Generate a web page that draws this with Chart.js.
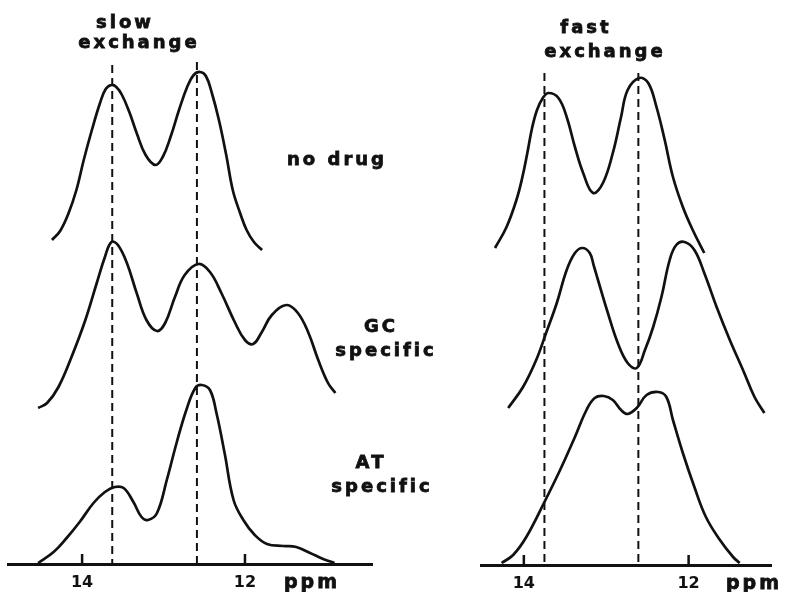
<!DOCTYPE html>
<html>
<head>
<meta charset="utf-8">
<script src="https://cdn.jsdelivr.net/npm/chart.js@4"></script>
<style>
  html, body { margin: 0; background: #fff; }
  .panel { position: absolute; left: 0; top: 0; width: 786px; height: 592px; }
</style>
</head>
<body>
<div class="panel"><canvas id="slowChart" width="786" height="592"></canvas></div>
<div class="panel"><canvas id="fastChart" width="786" height="592"></canvas></div>
<script>
const INK = '#111'

// slow exchange: imino proton region, three traces stacked
const slowNoDrugPpm = [14.37, 14.27, 14.17, 14.07, 13.98, 13.88, 13.78, 13.71, 13.64, 13.58, 13.51, 13.42, 13.33, 13.22, 13.10, 13.01, 12.91, 12.81, 12.71, 12.63, 12.55, 12.48, 12.41, 12.32, 12.23, 12.15, 12.06, 11.98, 11.89, 11.79]
const slowNoDrugInt = [324, 333, 350, 374, 404, 434, 461, 475, 479, 477, 469, 452, 431, 409, 399, 407, 428, 454, 477, 489, 492, 488, 472, 444, 409, 374, 351, 334, 322, 314]

const slowGCPpm = [14.54, 14.43, 14.29, 14.13, 13.96, 13.82, 13.72, 13.64, 13.56, 13.45, 13.33, 13.21, 13.08, 12.98, 12.86, 12.74, 12.57, 12.43, 12.29, 12.12, 12.00, 11.90, 11.80, 11.67, 11.49, 11.35, 11.22, 11.10, 10.98, 10.89]
const slowGCInt = [156, 161, 177, 207, 244, 281, 307, 322, 319, 301, 271, 244, 233, 241, 267, 289, 300, 292, 271, 241, 224, 220, 231, 249, 259, 251, 231, 204, 181, 171]

const slowATPpm = [14.54, 14.35, 14.19, 14.03, 13.86, 13.72, 13.60, 13.49, 13.37, 13.27, 13.19, 13.08, 12.96, 12.84, 12.72, 12.61, 12.53, 12.43, 12.35, 12.25, 12.14, 12.02, 11.88, 11.73, 11.53, 11.37, 11.20, 11.04, 10.90]
const slowATInt = [1, 12, 26, 42, 61, 72, 77, 76, 62, 47, 44, 51, 84, 121, 154, 176, 179, 174, 151, 111, 64, 44, 29, 20, 18, 17, 11, 5, 1]

// fast exchange
const fastNoDrugPpm = [14.35, 14.21, 14.09, 14.02, 13.96, 13.90, 13.84, 13.77, 13.70, 13.58, 13.48, 13.38, 13.28, 13.16, 13.04, 12.92, 12.82, 12.74, 12.60, 12.49, 12.39, 12.29, 12.19, 12.07, 11.95, 11.81]
const fastNoDrugInt = [317, 338, 365, 387, 411, 437, 455, 467, 472, 467, 448, 418, 392, 372, 382, 412, 448, 475, 487, 482, 458, 425, 388, 358, 335, 312]

const fastGCPpm = [14.19, 14.01, 13.85, 13.73, 13.60, 13.48, 13.38, 13.29, 13.20, 13.15, 13.10, 12.98, 12.86, 12.74, 12.63, 12.53, 12.43, 12.33, 12.23, 12.15, 12.05, 11.93, 11.81, 11.66, 11.50, 11.34, 11.20, 11.08]
const fastGCInt = [157, 178, 205, 232, 262, 295, 312, 317, 312, 299, 285, 252, 222, 202, 197, 215, 238, 268, 305, 320, 323, 315, 292, 258, 225, 195, 168, 152]

const fastATPpm = [14.27, 14.13, 13.97, 13.75, 13.56, 13.38, 13.24, 13.14, 13.03, 12.92, 12.82, 12.74, 12.63, 12.51, 12.37, 12.27, 12.19, 12.07, 11.93, 11.79, 11.62, 11.46, 11.38]
const fastATInt = [2, 10, 28, 63, 95, 128, 155, 167, 169, 165, 155, 151, 157, 170, 173, 168, 145, 112, 78, 48, 25, 8, 2]

// reference shifts (dashed lines) and axis ticks
const slowShifts = [13.63, 12.59]
const fastShifts = [13.75, 12.61]
const tickValues = [14, 12]

function trace (ppm, intensity) {
  return {
    data: ppm.map((p, i) => ({ x: p, y: intensity[i] })),
    borderColor: INK,
    borderWidth: 2.7,
    pointRadius: 0,
    fill: false,
    tension: 0.4
  }
}

// heavy lettering: fill plus a thin outline
function boldText (ctx, text, x, y) {
  ctx.fillText(text, x, y)
  ctx.strokeText(text, x, y)
}

const marks = {
  id: 'marks',
  afterDatasetsDraw (chart, args, opts) {
    const { ctx, chartArea, scales: { x, y } } = chart
    ctx.save()
    ctx.strokeStyle = INK
    ctx.lineWidth = 2
    ctx.setLineDash([8, 5])
    opts.shifts.forEach((p, i) => {
      const px = x.getPixelForValue(p)
      ctx.beginPath()
      ctx.moveTo(px, y.getPixelForValue(opts.dashTop[i]))
      ctx.lineTo(px, chartArea.bottom)
      ctx.stroke()
    })
    ctx.setLineDash([])
    ctx.lineWidth = 2.5
    tickValues.forEach(p => {
      const px = x.getPixelForValue(p)
      ctx.beginPath()
      ctx.moveTo(px, chartArea.bottom)
      ctx.lineTo(px, chartArea.bottom - 10)
      ctx.stroke()
    })
    ctx.fillStyle = INK
    ctx.lineWidth = 0.8
    ctx.textAlign = 'center'
    ctx.textBaseline = 'middle'
    ctx.font = 'bold 18px "DejaVu Sans"'
    ctx.letterSpacing = '3px'
    opts.labels.forEach(l => boldText(ctx, l.text, l.x, l.y))
    ctx.font = 'bold 19px "DejaVu Sans"'
    boldText(ctx, 'ppm', opts.ppmX, chartArea.bottom + 19)
    ctx.restore()
  }
}

function makeChart (id, traces, range, pad, axisH, labelOpts) {
  return new Chart(document.getElementById(id), {
    type: 'line',
    data: { datasets: traces },
    options: {
      responsive: false,
      animation: false,
      devicePixelRatio: 1,
      layout: { padding: pad },
      plugins: { legend: { display: false }, tooltip: { enabled: false }, marks: labelOpts },
      scales: {
        x: {
          type: 'linear',
          reverse: true,
          min: range[0],
          max: range[1],
          grid: { display: false, drawTicks: false },
          border: { display: true, width: 3, color: INK },
          afterBuildTicks: scale => { scale.ticks = tickValues.map(v => ({ value: v })) },
          afterFit: scale => { scale.height = axisH },
          ticks: {
            color: INK,
            padding: 9,
            font: { family: 'DejaVu Sans', size: 16, weight: 'bold' },
            callback: v => String(v)
          }
        },
        y: { display: false, min: 0, max: 592 - axisH }
      }
    },
    plugins: [marks]
  })
}

makeChart('slowChart',
  [trace(slowNoDrugPpm, slowNoDrugInt), trace(slowGCPpm, slowGCInt), trace(slowATPpm, slowATInt)],
  [10.44, 14.91], { left: 8, right: 414, top: 0, bottom: 0 }, 28,
  {
    shifts: slowShifts,
    dashTop: [499, 502],
    ppmX: 312,
    labels: [
      { text: 'slow', x: 125, y: 23 },
      { text: 'exchange', x: 139, y: 43 },
      { text: 'no drug', x: 337, y: 160 },
      { text: 'GC', x: 381, y: 327 },
      { text: 'specific', x: 386, y: 351 },
      { text: 'AT', x: 371, y: 463 },
      { text: 'specific', x: 382, y: 487 }
    ]
  })

makeChart('fastChart',
  [trace(fastNoDrugPpm, fastNoDrugInt), trace(fastGCPpm, fastGCInt), trace(fastATPpm, fastATInt)],
  [11.0, 14.52], { left: 481, right: 15, top: 0, bottom: 0 }, 27,
  {
    shifts: fastShifts,
    dashTop: [492, 492],
    ppmX: 754,
    labels: [
      { text: 'fast', x: 586, y: 28 },
      { text: 'exchange', x: 605, y: 52 }
    ]
  })
</script>
</body>
</html>
